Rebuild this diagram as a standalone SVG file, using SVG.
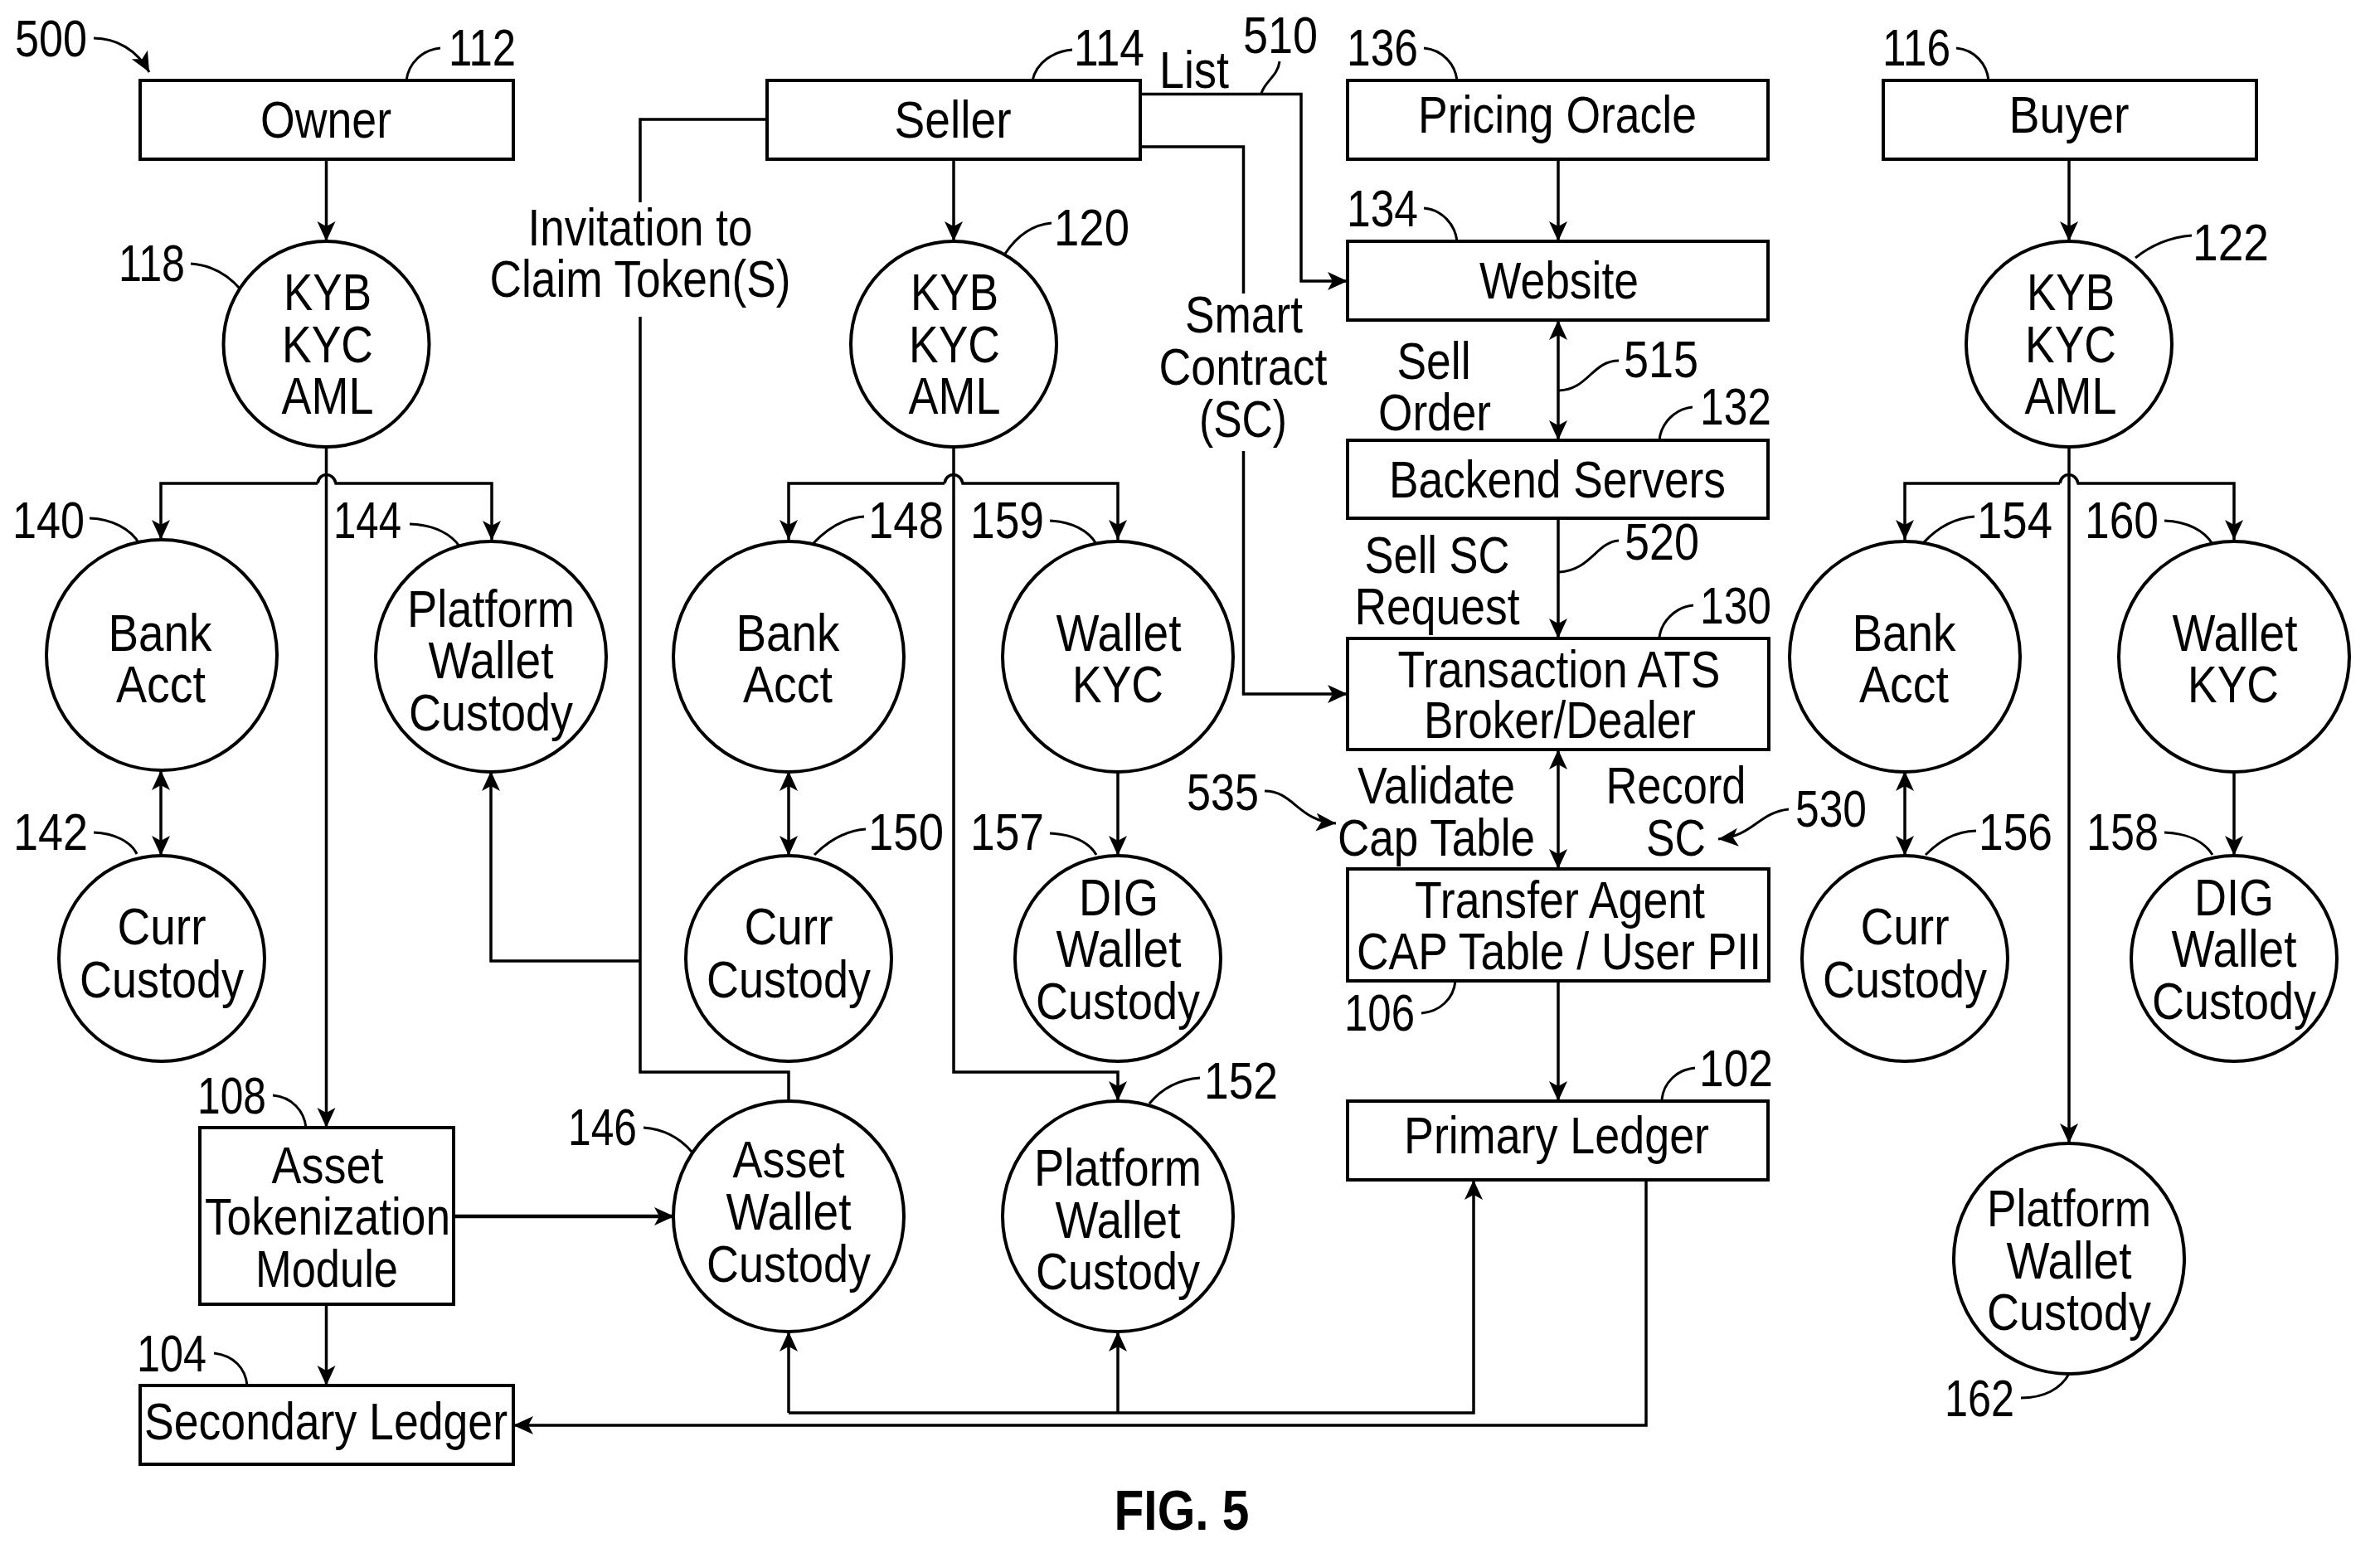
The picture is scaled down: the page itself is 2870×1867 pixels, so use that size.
<svg xmlns="http://www.w3.org/2000/svg" width="2870" height="1867" viewBox="0 0 2870 1867">
<style>
text{font-family:"Liberation Sans",Arial,sans-serif;font-size:63px;fill:#000}
.c{text-anchor:middle}
.f{font-weight:bold;font-size:68px}
rect,circle{fill:#fff;stroke:#000;stroke-width:4}
.w{fill:none;stroke:#000;stroke-width:3.5}
.a{marker-end:url(#ah)}
.d{marker-start:url(#as);marker-end:url(#ah)}
.l{fill:none;stroke:#000;stroke-width:3}
</style>
<defs>
<marker id="ah" markerUnits="userSpaceOnUse" markerWidth="28" markerHeight="26" refX="24" refY="11" orient="auto"><path d="M0,0L24,11L0,22L6,11Z" fill="#000"/></marker>
<marker id="as" markerUnits="userSpaceOnUse" markerWidth="28" markerHeight="26" refX="0" refY="11" orient="auto"><path d="M24,0L0,11L24,22L18,11Z" fill="#000"/></marker>
</defs>
<rect width="2870" height="1867" style="fill:#fff;stroke:none"/>
<g id="connectors">
<path class="w a" d="M393.500,192V291"/>
<path class="w a" d="M393.500,539V1360"/>
<path class="w a" d="M383,583H194V651"/>
<path class="w a" d="M383,583C385,569 402,569 405,583H593V652"/>
<path class="w d" d="M194,929V1032"/>
<path class="w" d="M925,144H772V244"/>
<path class="w" d="M772,382V1293H951V1327"/>
<path class="w a" d="M772,1159H592V930"/>
<path class="w a" d="M1150,192V291"/>
<path class="w a" d="M1150,539V1293H1348V1328"/>
<path class="w a" d="M1139,583H951V651"/>
<path class="w a" d="M1139,583C1141,569 1158,569 1161,583H1348V651"/>
<path class="w d" d="M951,930V1032"/>
<path class="w a" d="M1348,930V1032"/>
<path class="w a" d="M1375,113.500H1569V339H1625"/>
<path class="w" d="M1375,177H1499.500V354"/>
<path class="w a" d="M1499.500,544V837H1625"/>
<path class="w a" d="M1879,192V291"/>
<path class="w d" d="M1879,386V531"/>
<path class="w a" d="M1879,625V770"/>
<path class="w d" d="M1879,904V1048"/>
<path class="w a" d="M1879,1183V1328"/>
<path class="w a" d="M1985,1423V1719H619"/>
<path class="w a" d="M951,1704H1777V1423"/>
<path class="w a" d="M951,1704V1606"/>
<path class="w a" d="M1348,1704V1606"/>
<path class="w a" d="M547,1467H813" style="stroke-width:4.500"/>
<path class="w a" d="M393.500,1573V1671"/>
<path class="w a" d="M2495,192V291"/>
<path class="w a" d="M2495,539V1379"/>
<path class="w a" d="M2484,583H2297V651"/>
<path class="w a" d="M2484,583C2486,569 2503,569 2506,583H2694V651"/>
<path class="w d" d="M2297,930V1032"/>
<path class="w a" d="M2694,930V1032"/>
</g>
<g id="leaders">
<path class="l a" d="M113,46C140,46 165,60 180,87"/>
<path class="l" d="M490,97C493,75 510,60 531,58"/>
<path class="l" d="M230,318C258,320 278,335 290,349"/>
<path class="l" d="M1245,97C1250,75 1270,62 1293,60"/>
<path class="l" d="M1521,113C1525,98 1541,92 1543,74"/>
<path class="l" d="M1717,58C1740,60 1755,78 1757,97"/>
<path class="l" d="M2359,58C2382,60 2396,78 2398,97"/>
<path class="l" d="M1717,251C1740,253 1755,272 1757,291"/>
<path class="l" d="M1952,435C1920,435 1915,470 1880,471"/>
<path class="l" d="M2041,491C2020,493 2003,510 2001,531"/>
<path class="l" d="M1952,652C1925,654 1918,688 1880,690"/>
<path class="l" d="M2042,730C2020,732 2003,750 2001,769"/>
<path class="l" d="M1268,269C1245,271 1226,285 1212,306"/>
<path class="l" d="M2643,284C2618,286 2595,295 2575,311"/>
<path class="l" d="M108,625C135,626 158,638 168,656"/>
<path class="l" d="M494,632C525,633 545,645 555,660"/>
<path class="l" d="M1042,623C1015,625 995,640 980,656"/>
<path class="l" d="M1266,628C1292,629 1313,640 1322,656"/>
<path class="l" d="M2381,623C2355,625 2335,638 2320,654"/>
<path class="l" d="M2610,628C2638,629 2658,640 2668,656"/>
<path class="l" d="M113,1004C138,1005 158,1015 165,1030"/>
<path class="l" d="M1044,1000C1018,1002 998,1015 982,1031"/>
<path class="l" d="M1266,1005C1292,1006 1313,1015 1322,1031"/>
<path class="l" d="M2383,1002C2356,1003 2338,1015 2322,1031"/>
<path class="l" d="M2610,1004C2638,1005 2658,1015 2668,1031"/>
<path class="l" d="M1714,1222C1736,1220 1753,1205 1755,1183"/>
<path class="l" d="M329,1321C352,1323 367,1340 369,1360"/>
<path class="l" d="M258,1632C282,1635 296,1650 298,1671"/>
<path class="l" d="M776,1360C803,1362 822,1375 834,1389"/>
<path class="l" d="M1447,1300C1420,1302 1400,1314 1386,1331"/>
<path class="l" d="M2044,1288C2022,1290 2006,1306 2004,1326"/>
<path class="l" d="M2437,1686C2465,1686 2485,1675 2495,1657"/>
<path class="l a" d="M1525,954C1560,954 1565,990 1611,993"/>
<path class="l a" d="M2157,976C2120,980 2115,1008 2072,1012"/>
</g>
<g id="refs">
<text x="18" y="68" textLength="87" lengthAdjust="spacingAndGlyphs">500</text>
<text x="541" y="79" textLength="81" lengthAdjust="spacingAndGlyphs">112</text>
<text x="143" y="339" textLength="80" lengthAdjust="spacingAndGlyphs">118</text>
<text x="1295" y="79" textLength="85" lengthAdjust="spacingAndGlyphs">114</text>
<text x="1499" y="64" textLength="90" lengthAdjust="spacingAndGlyphs">510</text>
<text x="1624" y="79" textLength="86" lengthAdjust="spacingAndGlyphs">136</text>
<text x="2270" y="79" textLength="82" lengthAdjust="spacingAndGlyphs">116</text>
<text x="1624" y="273" textLength="86" lengthAdjust="spacingAndGlyphs">134</text>
<text x="1271" y="296" textLength="91" lengthAdjust="spacingAndGlyphs">120</text>
<text x="2644" y="314" textLength="92" lengthAdjust="spacingAndGlyphs">122</text>
<text x="1958" y="455" textLength="90" lengthAdjust="spacingAndGlyphs">515</text>
<text x="2050" y="512" textLength="86" lengthAdjust="spacingAndGlyphs">132</text>
<text x="1959" y="675" textLength="90" lengthAdjust="spacingAndGlyphs">520</text>
<text x="2050" y="752" textLength="86" lengthAdjust="spacingAndGlyphs">130</text>
<text x="15" y="649" textLength="87" lengthAdjust="spacingAndGlyphs">140</text>
<text x="402" y="649" textLength="82" lengthAdjust="spacingAndGlyphs">144</text>
<text x="1047" y="649" textLength="91" lengthAdjust="spacingAndGlyphs">148</text>
<text x="1170" y="649" textLength="89" lengthAdjust="spacingAndGlyphs">159</text>
<text x="2384" y="649" textLength="91" lengthAdjust="spacingAndGlyphs">154</text>
<text x="2514" y="649" textLength="89" lengthAdjust="spacingAndGlyphs">160</text>
<text x="16" y="1025" textLength="90" lengthAdjust="spacingAndGlyphs">142</text>
<text x="1047" y="1025" textLength="91" lengthAdjust="spacingAndGlyphs">150</text>
<text x="1170" y="1025" textLength="89" lengthAdjust="spacingAndGlyphs">157</text>
<text x="2386" y="1025" textLength="89" lengthAdjust="spacingAndGlyphs">156</text>
<text x="2516" y="1025" textLength="87" lengthAdjust="spacingAndGlyphs">158</text>
<text x="1431" y="977" textLength="87" lengthAdjust="spacingAndGlyphs">535</text>
<text x="2165" y="997" textLength="86" lengthAdjust="spacingAndGlyphs">530</text>
<text x="1621" y="1243" textLength="85" lengthAdjust="spacingAndGlyphs">106</text>
<text x="238" y="1343" textLength="83" lengthAdjust="spacingAndGlyphs">108</text>
<text x="165" y="1654" textLength="84" lengthAdjust="spacingAndGlyphs">104</text>
<text x="685" y="1381" textLength="83" lengthAdjust="spacingAndGlyphs">146</text>
<text x="1452" y="1325" textLength="89" lengthAdjust="spacingAndGlyphs">152</text>
<text x="2049" y="1310" textLength="89" lengthAdjust="spacingAndGlyphs">102</text>
<text x="2345" y="1708" textLength="84" lengthAdjust="spacingAndGlyphs">162</text>
</g>
<g id="labels">
<text x="1398" y="106" textLength="84" lengthAdjust="spacingAndGlyphs">List</text>
<text class="c" x="772" y="296" textLength="271" lengthAdjust="spacingAndGlyphs">Invitation to</text>
<text class="c" x="772" y="358" textLength="363" lengthAdjust="spacingAndGlyphs">Claim Token(S)</text>
<text class="c" x="1500" y="401" textLength="142" lengthAdjust="spacingAndGlyphs">Smart</text>
<text class="c" x="1499" y="464" textLength="203" lengthAdjust="spacingAndGlyphs">Contract</text>
<text class="c" x="1499" y="527" textLength="106" lengthAdjust="spacingAndGlyphs">(SC)</text>
<text class="c" x="1729" y="457" textLength="89" lengthAdjust="spacingAndGlyphs">Sell</text>
<text class="c" x="1730" y="519" textLength="136" lengthAdjust="spacingAndGlyphs">Order</text>
<text class="c" x="1733" y="691" textLength="175" lengthAdjust="spacingAndGlyphs">Sell SC</text>
<text class="c" x="1733" y="753" textLength="199" lengthAdjust="spacingAndGlyphs">Request</text>
<text class="c" x="1732" y="969" textLength="190" lengthAdjust="spacingAndGlyphs">Validate</text>
<text class="c" x="1732" y="1032" textLength="238" lengthAdjust="spacingAndGlyphs">Cap Table</text>
<text class="c" x="2021" y="969" textLength="169" lengthAdjust="spacingAndGlyphs">Record</text>
<text class="c" x="2021" y="1032" textLength="72" lengthAdjust="spacingAndGlyphs">SC</text>
<text class="c f" x="1425" y="1845" textLength="163" lengthAdjust="spacingAndGlyphs">FIG. 5</text>
</g>
<g id="n112"><rect x="169" y="97" width="450" height="95"/><text class="c" x="393" y="166" textLength="158" lengthAdjust="spacingAndGlyphs">Owner</text></g>
<g id="n114"><rect x="925" y="97" width="450" height="95"/><text class="c" x="1149" y="166" textLength="141" lengthAdjust="spacingAndGlyphs">Seller</text></g>
<g id="n136"><rect x="1625" y="97" width="507" height="95"/><text class="c" x="1878" y="160" textLength="336" lengthAdjust="spacingAndGlyphs">Pricing Oracle</text></g>
<g id="n116"><rect x="2271" y="97" width="450" height="95"/><text class="c" x="2495" y="160" textLength="145" lengthAdjust="spacingAndGlyphs">Buyer</text></g>
<g id="n134"><rect x="1625" y="291" width="507" height="95"/><text class="c" x="1880" y="360" textLength="192" lengthAdjust="spacingAndGlyphs">Website</text></g>
<g id="n132"><rect x="1625" y="531" width="507" height="94"/><text class="c" x="1878" y="600" textLength="406" lengthAdjust="spacingAndGlyphs">Backend Servers</text></g>
<g id="n130"><rect x="1625" y="770" width="508" height="134"/><text class="c" x="1880" y="829" textLength="389" lengthAdjust="spacingAndGlyphs">Transaction ATS</text><text class="c" x="1881" y="890" textLength="328" lengthAdjust="spacingAndGlyphs">Broker/Dealer</text></g>
<g id="n106"><rect x="1625" y="1048" width="508" height="135"/><text class="c" x="1881" y="1107" textLength="350" lengthAdjust="spacingAndGlyphs">Transfer Agent</text><text class="c" x="1880" y="1169" textLength="488" lengthAdjust="spacingAndGlyphs">CAP Table / User PII</text></g>
<g id="n102"><rect x="1625" y="1328" width="507" height="95"/><text class="c" x="1877" y="1391" textLength="368" lengthAdjust="spacingAndGlyphs">Primary Ledger</text></g>
<g id="n108"><rect x="241" y="1360" width="306" height="213"/><text class="c" x="395" y="1427" textLength="135" lengthAdjust="spacingAndGlyphs">Asset</text><text class="c" x="395" y="1489" textLength="296" lengthAdjust="spacingAndGlyphs">Tokenization</text><text class="c" x="394" y="1552" textLength="172" lengthAdjust="spacingAndGlyphs">Module</text></g>
<g id="n104"><rect x="169" y="1671" width="450" height="95"/><text class="c" x="393" y="1736" textLength="438" lengthAdjust="spacingAndGlyphs">Secondary Ledger</text></g>
<g id="n118"><circle cx="393.500" cy="415" r="124"/><text class="c" x="395" y="374" textLength="106" lengthAdjust="spacingAndGlyphs">KYB</text><text class="c" x="395" y="437" textLength="110" lengthAdjust="spacingAndGlyphs">KYC</text><text class="c" x="395" y="499" textLength="111" lengthAdjust="spacingAndGlyphs">AML</text></g>
<g id="n120"><circle cx="1150" cy="415" r="124"/><text class="c" x="1151" y="374" textLength="106" lengthAdjust="spacingAndGlyphs">KYB</text><text class="c" x="1151" y="437" textLength="110" lengthAdjust="spacingAndGlyphs">KYC</text><text class="c" x="1151" y="499" textLength="111" lengthAdjust="spacingAndGlyphs">AML</text></g>
<g id="n122"><circle cx="2495" cy="415" r="124"/><text class="c" x="2497" y="374" textLength="106" lengthAdjust="spacingAndGlyphs">KYB</text><text class="c" x="2497" y="437" textLength="110" lengthAdjust="spacingAndGlyphs">KYC</text><text class="c" x="2497" y="499" textLength="111" lengthAdjust="spacingAndGlyphs">AML</text></g>
<g id="n140"><circle cx="195" cy="790" r="139"/><text class="c" x="193" y="785" textLength="125" lengthAdjust="spacingAndGlyphs">Bank</text><text class="c" x="194" y="847" textLength="108" lengthAdjust="spacingAndGlyphs">Acct</text></g>
<g id="n144"><circle cx="592" cy="792" r="139"/><text class="c" x="592" y="756" textLength="202" lengthAdjust="spacingAndGlyphs">Platform</text><text class="c" x="592" y="818" textLength="151" lengthAdjust="spacingAndGlyphs">Wallet</text><text class="c" x="592" y="881" textLength="198" lengthAdjust="spacingAndGlyphs">Custody</text></g>
<g id="n148"><circle cx="951" cy="792" r="139"/><text class="c" x="950" y="785" textLength="125" lengthAdjust="spacingAndGlyphs">Bank</text><text class="c" x="950" y="847" textLength="108" lengthAdjust="spacingAndGlyphs">Acct</text></g>
<g id="n159"><circle cx="1348" cy="792" r="139"/><text class="c" x="1349" y="785" textLength="151" lengthAdjust="spacingAndGlyphs">Wallet</text><text class="c" x="1348" y="847" textLength="110" lengthAdjust="spacingAndGlyphs">KYC</text></g>
<g id="n154"><circle cx="2297" cy="792" r="139"/><text class="c" x="2296" y="785" textLength="125" lengthAdjust="spacingAndGlyphs">Bank</text><text class="c" x="2296" y="847" textLength="108" lengthAdjust="spacingAndGlyphs">Acct</text></g>
<g id="n160"><circle cx="2694" cy="792" r="139"/><text class="c" x="2695" y="785" textLength="151" lengthAdjust="spacingAndGlyphs">Wallet</text><text class="c" x="2693" y="847" textLength="110" lengthAdjust="spacingAndGlyphs">KYC</text></g>
<g id="n142"><circle cx="195" cy="1156" r="124"/><text class="c" x="195" y="1139" textLength="107" lengthAdjust="spacingAndGlyphs">Curr</text><text class="c" x="195" y="1203" textLength="198" lengthAdjust="spacingAndGlyphs">Custody</text></g>
<g id="n150"><circle cx="951" cy="1156" r="124"/><text class="c" x="951" y="1139" textLength="107" lengthAdjust="spacingAndGlyphs">Curr</text><text class="c" x="951" y="1203" textLength="198" lengthAdjust="spacingAndGlyphs">Custody</text></g>
<g id="n156"><circle cx="2297" cy="1156" r="124"/><text class="c" x="2297" y="1139" textLength="107" lengthAdjust="spacingAndGlyphs">Curr</text><text class="c" x="2297" y="1203" textLength="198" lengthAdjust="spacingAndGlyphs">Custody</text></g>
<g id="n157"><circle cx="1348" cy="1156" r="124"/><text class="c" x="1349" y="1104" textLength="96" lengthAdjust="spacingAndGlyphs">DIG</text><text class="c" x="1349" y="1166" textLength="151" lengthAdjust="spacingAndGlyphs">Wallet</text><text class="c" x="1348" y="1229" textLength="198" lengthAdjust="spacingAndGlyphs">Custody</text></g>
<g id="n158"><circle cx="2694" cy="1156" r="124"/><text class="c" x="2694" y="1104" textLength="96" lengthAdjust="spacingAndGlyphs">DIG</text><text class="c" x="2694" y="1166" textLength="151" lengthAdjust="spacingAndGlyphs">Wallet</text><text class="c" x="2694" y="1229" textLength="198" lengthAdjust="spacingAndGlyphs">Custody</text></g>
<g id="n146"><circle cx="951" cy="1467" r="139"/><text class="c" x="951" y="1420" textLength="135" lengthAdjust="spacingAndGlyphs">Asset</text><text class="c" x="951" y="1483" textLength="151" lengthAdjust="spacingAndGlyphs">Wallet</text><text class="c" x="951" y="1546" textLength="198" lengthAdjust="spacingAndGlyphs">Custody</text></g>
<g id="n152"><circle cx="1348" cy="1467" r="139"/><text class="c" x="1348" y="1430" textLength="202" lengthAdjust="spacingAndGlyphs">Platform</text><text class="c" x="1348" y="1493" textLength="151" lengthAdjust="spacingAndGlyphs">Wallet</text><text class="c" x="1348" y="1555" textLength="198" lengthAdjust="spacingAndGlyphs">Custody</text></g>
<g id="n162"><circle cx="2495" cy="1518" r="139"/><text class="c" x="2495" y="1479" textLength="198" lengthAdjust="spacingAndGlyphs">Platform</text><text class="c" x="2495" y="1542" textLength="151" lengthAdjust="spacingAndGlyphs">Wallet</text><text class="c" x="2495" y="1604" textLength="198" lengthAdjust="spacingAndGlyphs">Custody</text></g>
</svg>
